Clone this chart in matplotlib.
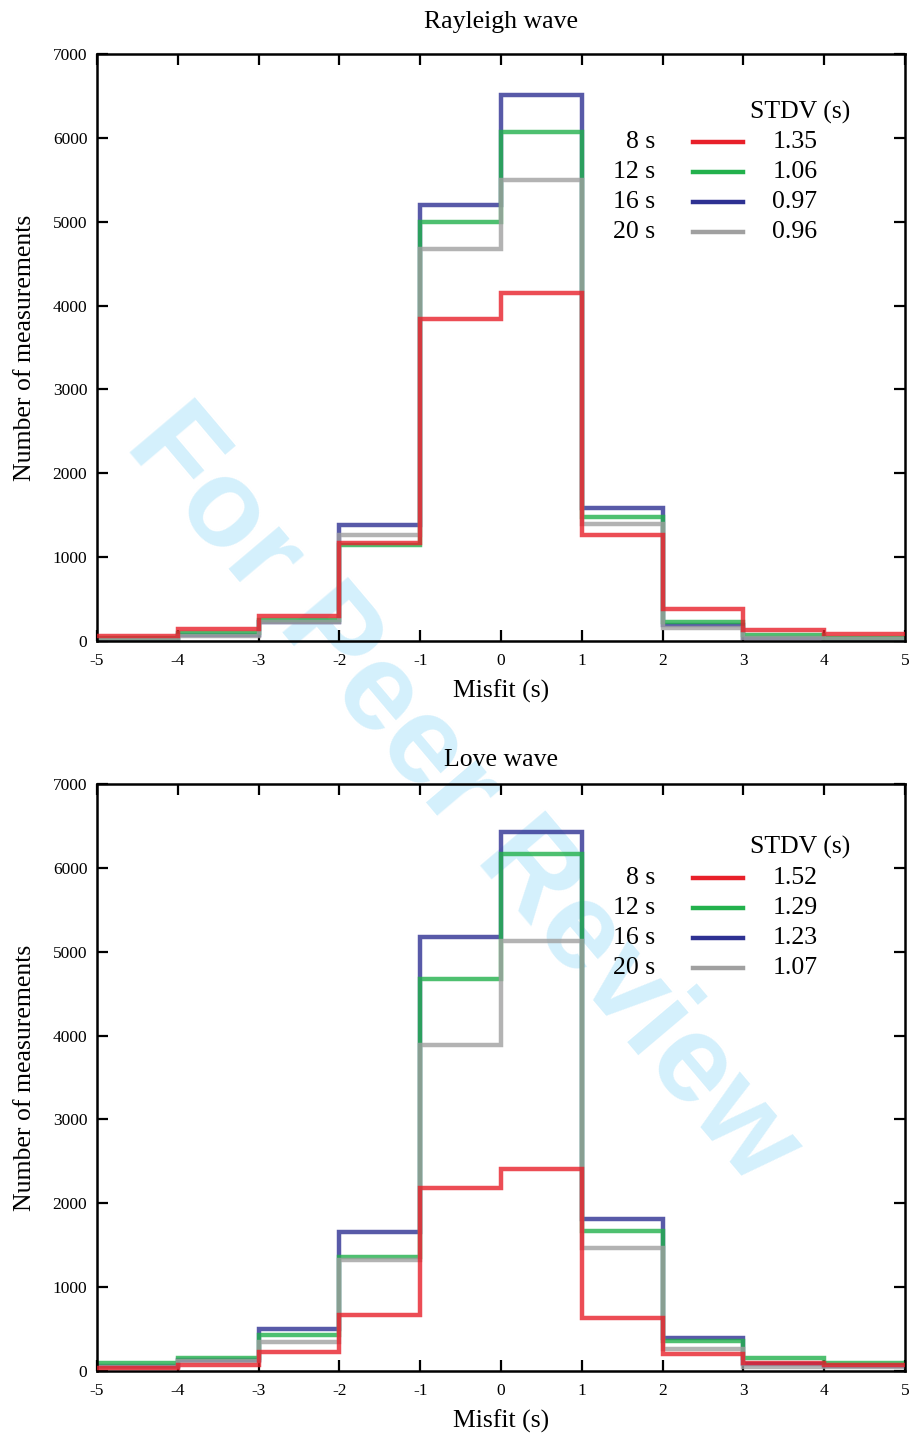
import numpy as np
import matplotlib
matplotlib.use('Agg')
import matplotlib.pyplot as plt

# bin edges of the misfit histograms (s)
edges = np.arange(-5, 6, 1)
periods = ['8 s', '12 s', '16 s', '20 s']
colors = ['#e8202a', '#22b14c', '#2e3192', '#a0a0a0']

# Rayleigh wave counts per bin
ray_8 = [60, 145, 300, 1170, 3840, 4150, 1265, 380, 130, 80]
ray_12 = [30, 95, 250, 1140, 5000, 6070, 1480, 230, 70, 30]
ray_16 = [20, 70, 220, 1385, 5200, 6510, 1580, 190, 40, 20]
ray_20 = [20, 60, 230, 1265, 4680, 5500, 1400, 155, 30, 20]
ray_stdv = ['1.35', '1.06', '0.97', '0.96']

# Love wave counts per bin
love_8 = [40, 70, 220, 670, 2180, 2410, 630, 200, 90, 70]
love_12 = [90, 150, 430, 1360, 4680, 6160, 1670, 360, 150, 100]
love_16 = [60, 130, 500, 1660, 5180, 6430, 1810, 390, 80, 60]
love_20 = [50, 120, 340, 1320, 3890, 5130, 1470, 260, 50, 50]
love_stdv = ['1.52', '1.29', '1.23', '1.07']

plt.rcParams['font.family'] = ['Liberation Serif', 'DejaVu Serif']

fig = plt.figure(figsize=(9.11, 14.39), dpi=100)
ax1 = fig.add_axes([0.1065, 0.5546, 0.8869, 0.4079])
ax2 = fig.add_axes([0.1065, 0.0473, 0.8869, 0.4079])


def draw_panel(ax, series, stdv, title, title_y, leg_y):
    ax.set_facecolor('none')
    # draw grey/blue/green first, red on top
    for i in [2, 1, 3, 0]:
        ax.stairs(series[i], edges, baseline=None, color=colors[i],
                  linewidth=3.2, alpha=0.8, zorder=2 + (i == 0))
    ax.set_xlim(-5, 5)
    ax.set_ylim(0, 7000)
    ax.set_xticks(edges)
    ax.set_xticklabels([str(e) for e in edges])
    ax.set_yticks(np.arange(0, 7001, 1000))
    ax.tick_params(direction='in', length=8, width=1.6, labelsize=12.5,
                   top=True, right=True)
    ax.tick_params(axis='x', pad=9)
    ax.tick_params(axis='y', pad=7)
    for sp in ax.spines.values():
        sp.set_linewidth(1.8)
    ax.set_xlabel('Misfit (s)', fontsize=18.5, labelpad=7)
    ax.set_ylabel('Number of measurements', fontsize=18.5, labelpad=12)
    ax.text(0.5, title_y, title, transform=ax.transAxes, ha='center',
            va='center', fontsize=18.5)

    # legend drawn as text + lines
    ax.text(0.870, leg_y, 'STDV (s)', transform=ax.transAxes, ha='center',
            va='center', fontsize=18.5)
    for k in range(4):
        yy = leg_y - 0.051 * (k + 1)
        ax.text(0.6906, yy, periods[k], transform=ax.transAxes, ha='right',
                va='center', fontsize=18.5)
        ax.plot([0.7376, 0.7995], [yy, yy], transform=ax.transAxes,
                color=colors[k], linewidth=3.2)
        ax.text(0.8639, yy, stdv[k], transform=ax.transAxes, ha='center',
                va='center', fontsize=18.5)


draw_panel(ax1, [ray_8, ray_12, ray_16, ray_20], ray_stdv, 'Rayleigh wave', 1.055, 0.901)
draw_panel(ax2, [love_8, love_12, love_16, love_20], love_stdv, 'Love wave', 1.041, 0.891)

# watermark
fig.text(0.507, 0.447, 'For Peer Review', rotation=-49.8, ha='center',
         va='center', fontsize=90, fontweight='bold', color='#d4f0fc',
         family='Liberation Sans', zorder=-1)

fig.savefig('out.png', dpi=100)
